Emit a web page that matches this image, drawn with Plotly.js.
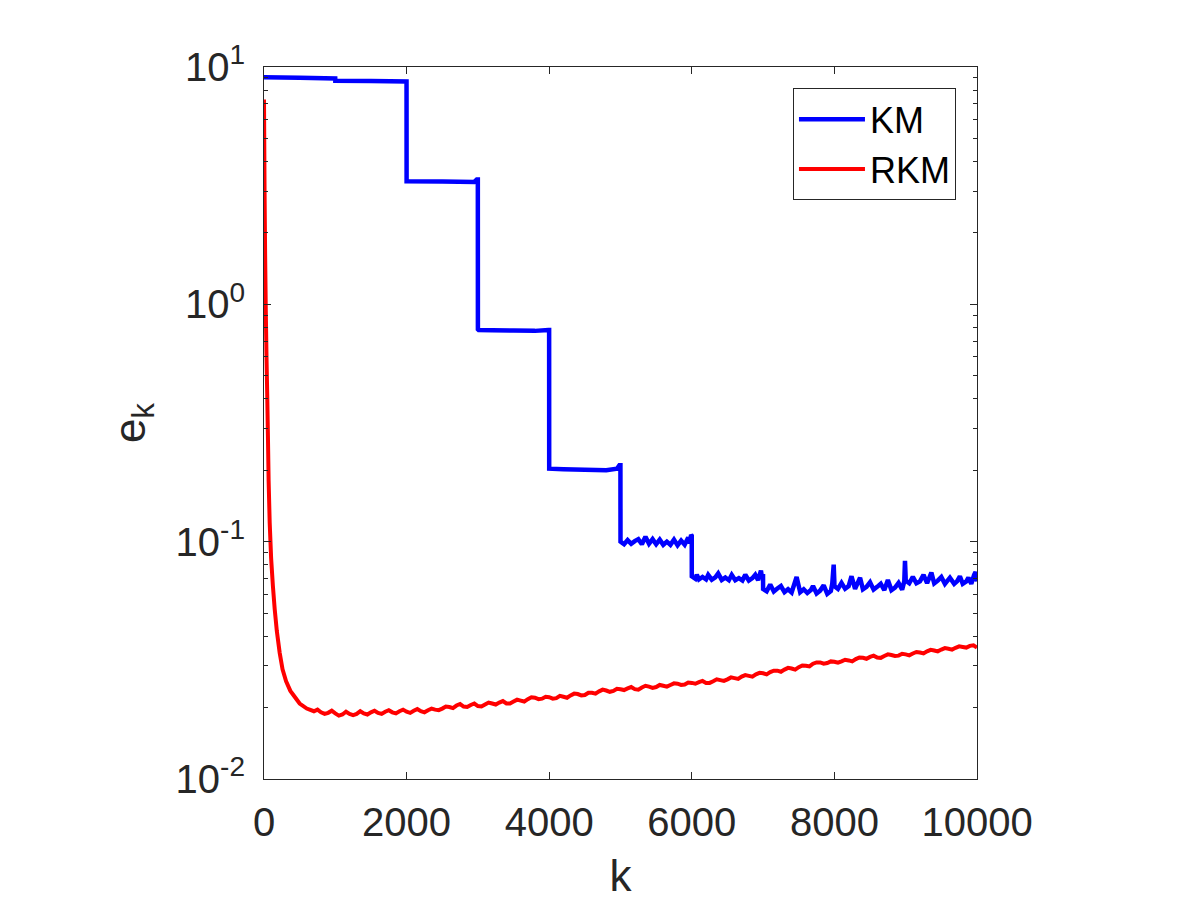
<!DOCTYPE html>
<html>
<head>
<meta charset="utf-8">
<script src="https://cdn.plot.ly/plotly-3.0.1.min.js"></script>
<style>html,body{margin:0;padding:0;background:#fff;}#chart{width:1200px;height:900px;}</style>
</head>
<body>
<div id="chart"></div>
<script>
// ---- data ----
var seriesNames = ["KM", "RKM"];

var kmK = [0, 500, 999, 1000, 1500, 1999, 2000, 2500, 2950, 2985, 2999, 3000, 3010, 3200, 3500, 3800, 3990, 3999,
  4000, 4200, 4500, 4800, 4950, 4985, 4999,
  5000, 5050, 5100, 5150, 5200, 5250, 5300, 5350, 5400, 5450, 5500, 5550, 5600, 5650, 5700, 5750, 5800, 5850, 5900, 5950, 5975, 5990, 5999,
  6000, 6050, 6070, 6100, 6150, 6200, 6230, 6280, 6330, 6370, 6420, 6470, 6520, 6560, 6610, 6660, 6710, 6750, 6800, 6850, 6890, 6930, 6970, 6985, 6999,
  7000, 7050, 7100, 7150, 7200, 7250, 7300, 7350, 7400, 7470, 7520, 7570, 7620, 7670, 7700, 7750, 7800, 7850, 7900, 7950, 7970, 7990, 7999,
  8000, 8050, 8100, 8150, 8200, 8240, 8290, 8360, 8400, 8450, 8500, 8550, 8600, 8650, 8700, 8750, 8800, 8850, 8900, 8950, 8980, 8990, 8999,
  9000, 9050, 9100, 9150, 9200, 9250, 9300, 9360, 9400, 9450, 9500, 9550, 9620, 9680, 9720, 9760, 9800, 9850, 9880, 9920, 9960, 9980, 10000];

var kmE = [9.05, 9.0, 8.95, 8.75, 8.72, 8.68, 3.30, 3.29, 3.28, 3.36, 3.36, 0.785, 0.78, 0.778, 0.775, 0.773, 0.78, 0.78,
  0.203, 0.202, 0.201, 0.200, 0.203, 0.21, 0.21,
  0.100, 0.0975, 0.1015, 0.098, 0.1005, 0.1025, 0.0975, 0.105, 0.098, 0.1025, 0.0975, 0.102, 0.097, 0.1, 0.097, 0.102, 0.0965, 0.101, 0.097, 0.104, 0.0985, 0.107, 0.106,
  0.0715, 0.0698, 0.0725, 0.0693, 0.071, 0.0693, 0.0725, 0.0692, 0.0708, 0.0735, 0.069, 0.0706, 0.0688, 0.0725, 0.0688, 0.0702, 0.0686, 0.0725, 0.0686, 0.0702, 0.0725, 0.0688, 0.0755, 0.070, 0.073,
  0.0632, 0.0618, 0.066, 0.0617, 0.0635, 0.065, 0.0613, 0.063, 0.0611, 0.071, 0.0612, 0.063, 0.0608, 0.0625, 0.065, 0.0605, 0.0622, 0.0655, 0.0603, 0.062, 0.0665, 0.080, 0.068,
  0.065, 0.0632, 0.067, 0.0633, 0.065, 0.0715, 0.0632, 0.0705, 0.063, 0.0645, 0.0675, 0.0628, 0.0645, 0.0665, 0.0625, 0.069, 0.0625, 0.064, 0.067, 0.0628, 0.068, 0.083, 0.071,
  0.0685, 0.0668, 0.071, 0.0668, 0.068, 0.0725, 0.0668, 0.074, 0.0667, 0.0685, 0.071, 0.0664, 0.0705, 0.0664, 0.068, 0.0715, 0.0664, 0.068, 0.0705, 0.0665, 0.0725, 0.0745, 0.068];

var rkmK = [0, 8, 16, 25, 35, 45, 55, 65, 80, 100, 125, 150, 180, 220, 260, 310, 370, 430, 500, 600,
  700, 750, 800, 850, 900, 950, 1000, 1050, 1100, 1150, 1200, 1250, 1300, 1350, 1400, 1450, 1500, 1550, 1600, 1650,
  1700, 1750, 1800, 1850, 1900, 1950, 2000, 2050, 2100, 2150, 2200, 2250, 2300, 2350, 2400, 2450, 2500, 2550, 2600, 2650,
  2700, 2750, 2800, 2850, 2900, 2950, 3000, 3050, 3100, 3150, 3200, 3250, 3300, 3350, 3400, 3450, 3500, 3550, 3600, 3650,
  3700, 3750, 3800, 3850, 3900, 3950, 4000, 4050, 4100, 4150, 4200, 4250, 4300, 4350, 4400, 4450, 4500, 4550, 4600, 4650,
  4700, 4750, 4800, 4850, 4900, 4950, 5000, 5050, 5100, 5150, 5200, 5250, 5300, 5350, 5400, 5450, 5500, 5550, 5600, 5650,
  5700, 5750, 5800, 5850, 5900, 5950, 6000, 6050, 6100, 6150, 6200, 6250, 6300, 6350, 6400, 6450, 6500, 6550, 6600, 6650,
  6700, 6750, 6800, 6850, 6900, 6950, 7000, 7050, 7100, 7150, 7200, 7250, 7300, 7350, 7400, 7450, 7500, 7550, 7600, 7650,
  7700, 7750, 7800, 7850, 7900, 7950, 8000, 8050, 8100, 8150, 8200, 8250, 8300, 8350, 8400, 8450, 8500, 8550, 8600, 8650,
  8700, 8750, 8800, 8850, 8900, 8950, 9000, 9050, 9100, 9150, 9200, 9250, 9300, 9350, 9400, 9450, 9500, 9550, 9600, 9650,
  9700, 9750, 9800, 9850, 9900, 9950, 10000];

var rkmE = [7.3, 3.0, 1.6, 0.95, 0.6, 0.42, 0.28, 0.18, 0.12, 0.085, 0.065, 0.052, 0.042, 0.034, 0.029, 0.0258, 0.0235, 0.0222, 0.0208, 0.0198,
  0.0193, 0.0196, 0.0191, 0.0188, 0.0190, 0.0194, 0.0189, 0.0185, 0.0187, 0.0192, 0.0188, 0.0186, 0.0188, 0.0193, 0.0189, 0.0187, 0.0191, 0.0194, 0.0190, 0.0188,
  0.0192, 0.0195, 0.0191, 0.0189, 0.0193, 0.0196, 0.0192, 0.0190, 0.0194, 0.0197, 0.0193, 0.0191, 0.0195, 0.0198, 0.0196, 0.0195, 0.0198, 0.0202, 0.0201, 0.0199,
  0.0204, 0.0207, 0.0202, 0.0201, 0.0205, 0.0208, 0.0203, 0.0202, 0.0206, 0.0210, 0.0208, 0.0206, 0.0210, 0.0213, 0.0208, 0.0208, 0.0212, 0.0216, 0.0214, 0.0212,
  0.0217, 0.0221, 0.0220, 0.0217, 0.0218, 0.0222, 0.0221, 0.0218, 0.0219, 0.0224, 0.0222, 0.0220, 0.0225, 0.0229, 0.0228, 0.0225, 0.0226, 0.0231, 0.0231, 0.0229,
  0.0234, 0.0238, 0.0236, 0.0233, 0.0235, 0.0240, 0.0239, 0.0237, 0.0241, 0.0244, 0.0239, 0.0238, 0.0243, 0.0247, 0.0245, 0.0242, 0.0244, 0.0249, 0.0247, 0.0245,
  0.0249, 0.0253, 0.0252, 0.0249, 0.0250, 0.0255, 0.0254, 0.0252, 0.0256, 0.0259, 0.0254, 0.0254, 0.0258, 0.0263, 0.0261, 0.0259, 0.0263, 0.0268, 0.0266, 0.0264,
  0.0270, 0.0274, 0.0272, 0.0270, 0.0276, 0.0280, 0.0279, 0.0276, 0.0282, 0.0286, 0.0286, 0.0283, 0.0289, 0.0294, 0.0292, 0.0289, 0.0296, 0.0301, 0.0300, 0.0298,
  0.0306, 0.0310, 0.0310, 0.0306, 0.0308, 0.0313, 0.0312, 0.0309, 0.0313, 0.0318, 0.0316, 0.0313, 0.0320, 0.0325, 0.0324, 0.0321, 0.0327, 0.0331, 0.0325, 0.0324,
  0.0330, 0.0335, 0.0333, 0.0330, 0.0331, 0.0337, 0.0335, 0.0332, 0.0338, 0.0343, 0.0341, 0.0338, 0.0345, 0.0350, 0.0348, 0.0345, 0.0351, 0.0356, 0.0354, 0.0351,
  0.0357, 0.0362, 0.0360, 0.0358, 0.0364, 0.0366, 0.0358];

var xTickVals = [0, 2000, 4000, 6000, 8000, 10000];
var xTickText = ["0", "2000", "4000", "6000", "8000", "10000"];
var yTickVals = [0.01, 0.1, 1, 10];
var yTickText = ["10<sup>-2</sup>", "10<sup>-1</sup>", "10<sup>0</sup>", "10<sup>1</sup>"];
var yMinorVals = [0.02, 0.03, 0.04, 0.05, 0.06, 0.07, 0.08, 0.09,
                  0.2, 0.3, 0.4, 0.5, 0.6, 0.7, 0.8, 0.9,
                  2, 3, 4, 5, 6, 7, 8, 9];

// ---- chart ----
var FONT = "Liberation Sans, Arial, Helvetica, sans-serif";
var AX = "#262626";

var traces = [
  {x: kmK, y: kmE, name: seriesNames[0], type: "scatter", mode: "lines",
   line: {color: "#0000ff", width: 4.5, simplify: false}},
  {x: rkmK, y: rkmE, name: seriesNames[1], type: "scatter", mode: "lines",
   line: {color: "#ff0000", width: 4, simplify: false}}
];

var layout = {
  width: 1200, height: 900,
  paper_bgcolor: "#ffffff", plot_bgcolor: "#ffffff",
  margin: {l: 264, r: 223, t: 67, b: 121, pad: 0},
  font: {family: FONT, color: AX},
  showlegend: true,
  legend: {
    x: 0.9705, y: 0.970, xanchor: "right", yanchor: "top",
    bgcolor: "#ffffff", bordercolor: AX, borderwidth: 1,
    font: {family: FONT, size: 36, color: "#000000"},
    itemwidth: 66, tracegroupgap: 0
  },
  xaxis: {
    range: [0, 10000], tickmode: "array", tickvals: xTickVals, ticktext: xTickText,
    ticks: "inside", ticklen: 7, tickwidth: 1, tickcolor: AX,
    showline: true, linecolor: AX, linewidth: 1, mirror: "ticks",
    showgrid: false, zeroline: false,
    tickfont: {family: FONT, size: 40, color: AX},
    ticklabelstandoff: 8,
    title: {text: "k", font: {family: FONT, size: 44, color: AX}, standoff: 18}
  },
  yaxis: {
    type: "log", range: [-2, 1], tickmode: "array", tickvals: yTickVals, ticktext: yTickText,
    ticks: "inside", ticklen: 7, tickwidth: 1, tickcolor: AX,
    showline: true, linecolor: AX, linewidth: 1, mirror: "ticks",
    showgrid: false, zeroline: false,
    tickfont: {family: FONT, size: 40, color: AX},
    ticklabelstandoff: 10,
    minor: {tickmode: "array", tickvals: yMinorVals, ticks: "inside", ticklen: 4, tickcolor: AX, showgrid: false},
    title: {text: "e<sub>k</sub>", font: {family: FONT, size: 44, color: AX}, standoff: 16}
  }
};

Plotly.newPlot("chart", traces, layout, {displayModeBar: false, staticPlot: true});
</script>
</body>
</html>
